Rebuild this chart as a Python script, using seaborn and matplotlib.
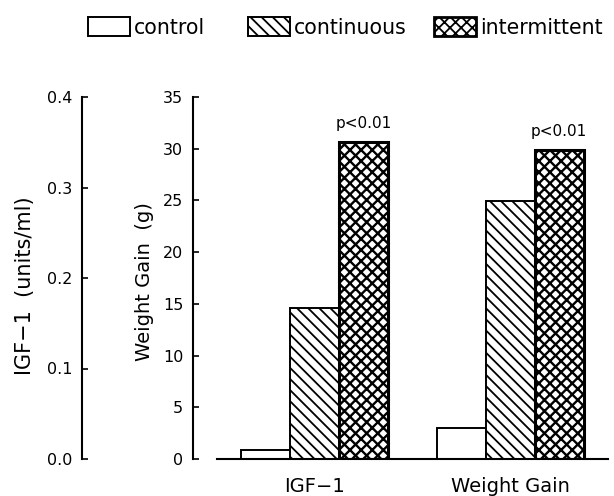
import matplotlib
matplotlib.use('Agg')
import matplotlib.pyplot as plt
from matplotlib.patches import Patch
import pandas as pd
import seaborn as sns

## Values
MEASURES = ['IGF-1', 'Weight Gain']
GROUPS = ['control', 'continuous', 'intermittent']
IGF1_UNITS = [0.010, 0.167, 0.350]     # units/ml, left axis
WEIGHT_GAIN_G = [3.0, 24.9, 29.9]      # g, right axis
P_LABELS = ['p<0.01', 'p<0.01']
HATCHES = ['', '\\\\\\', 'xxx']

IGF1_MAX = 0.4
WEIGHT_MAX = 35

sns.set_style('ticks')
plt.rcParams['font.family'] = ['DejaVu Sans']
plt.rcParams['hatch.linewidth'] = 1.3
for key in ['text.color', 'axes.labelcolor', 'axes.edgecolor',
            'xtick.color', 'ytick.color']:
    plt.rcParams[key] = 'black'

## IGF-1 bars share the weight axis, scaled so that 0.4 units/ml meets 35 g
scale = WEIGHT_MAX / IGF1_MAX
rows = []
for g, v in zip(GROUPS, IGF1_UNITS):
    rows.append({'measure': 'IGF-1', 'group': g, 'value': v * scale})
for g, v in zip(GROUPS, WEIGHT_GAIN_G):
    rows.append({'measure': 'Weight Gain', 'group': g, 'value': v})
df = pd.DataFrame(rows)

fig = plt.figure(figsize=(6.14, 4.96), dpi=100)
W, H = 614, 496
ax = fig.add_axes([217 / W, 37 / H, 391 / W, 362 / H])

sns.barplot(data=df, x='measure', y='value', hue='group', order=MEASURES,
            hue_order=GROUPS, palette=['white'] * 3, edgecolor='black',
            linewidth=1.4, width=0.75, errorbar=None, legend=False, ax=ax)

for cont, hatch in zip(ax.containers, HATCHES):
    for bar in cont:
        bar.set_hatch(hatch)
        if hatch.startswith('x'):
            bar.set_linewidth(2.2)
            try:
                bar.set_hatch_linewidth(1.7)
            except AttributeError:
                pass

## p-value labels over the intermittent bars
for bar, lab in zip(ax.containers[2], P_LABELS):
    ax.annotate(lab, (bar.get_x() + bar.get_width() / 2, bar.get_height()),
                xytext=(0, 10), textcoords='offset points', ha='center',
                va='baseline', fontsize=11)

ax.set_xlim(-0.5, 1.5)
ax.set_ylim(0, WEIGHT_MAX)
ax.set_yticks(range(0, WEIGHT_MAX + 1, 5))
ax.set_xlabel('')
ax.set_ylabel('Weight Gain  (g)', fontsize=14)
ax.yaxis.set_label_coords(-0.16, 0.49)
for s in ['top', 'right']:
    ax.spines[s].set_visible(False)
ax.spines['left'].set_position(('outward', 17.3))
ax.spines['left'].set_linewidth(1.5)
ax.spines['bottom'].set_linewidth(1.5)
ax.tick_params(axis='y', direction='in', length=4, width=1.2, pad=7, labelsize=11.5)
ax.tick_params(axis='x', length=0, pad=13, labelsize=14)
ax.set_xticks([0, 1])
ax.set_xticklabels(['IGF\u22121', 'Weight Gain'])

## Separate IGF-1 axis on the left
ax2 = fig.add_axes([82 / W, 37 / H, 100 / W, 362 / H])
ax2.patch.set_visible(False)
ax2.set_ylim(0, IGF1_MAX)
ax2.set_yticks([0.0, 0.1, 0.2, 0.3, 0.4])
ax2.set_yticklabels(['%.1f' % t for t in [0.0, 0.1, 0.2, 0.3, 0.4]])
ax2.set_xticks([])
for s in ['top', 'right', 'bottom']:
    ax2.spines[s].set_visible(False)
ax2.spines['left'].set_linewidth(1.5)
ax2.tick_params(axis='y', direction='in', length=4, width=1.2, pad=7, labelsize=11.5)
ax2.set_ylabel('IGF\u22121  (units/ml)', fontsize=15)
ax2.yaxis.set_label_coords(-0.47, 0.48)

## Legend across the top, one entry at a time to keep the original spacing
LEGEND_X = [88, 248, 434]
for g, h, x in zip(GROUPS, HATCHES, LEGEND_X):
    lw = 2.0 if h.startswith('x') else 1.4
    handle = Patch(facecolor='white', edgecolor='black', hatch=h, linewidth=lw)
    fig.legend([handle], [g], loc='center left', bbox_to_anchor=(x / W, 1 - 27.5 / H),
               frameon=False, borderpad=0, borderaxespad=0,
               handlelength=2.05, handleheight=0.98, handletextpad=0.2,
               fontsize=14.8)

fig.savefig('out.png', dpi=100)
